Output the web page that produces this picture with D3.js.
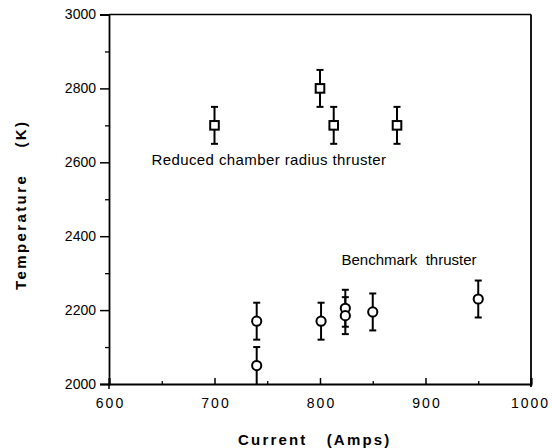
<!DOCTYPE html>
<html>
<head>
<meta charset="utf-8">
<script src="https://cdn.jsdelivr.net/npm/d3@7/dist/d3.min.js"></script>
<style>
  html, body { margin: 0; padding: 0; background: #fff; }
  svg { display: block; }
  text { font-family: "Liberation Sans", Arial, Helvetica, sans-serif; fill: #000; }
</style>
</head>
<body>
<script>
// ---- data ----
const reducedCurrent = [700, 800, 813, 873];
const reducedTemp    = [2700, 2800, 2700, 2700];
const reducedErr     = [50, 50, 50, 50];

const benchCurrent = [740, 740, 801, 824, 824, 850, 950];
const benchTemp    = [2170, 2050, 2170, 2205, 2185, 2195, 2230];
const benchErr     = [50, 50, 50, 50, 50, 50, 50];

const xTicks = [600, 700, 800, 900, 1000];
const xMinorTicks = [650, 750, 850, 950];
const yTicks = [2000, 2200, 2400, 2600, 2800, 3000];
const yMinorTicks = [2100, 2300, 2500, 2700, 2900];

const labelReduced = "Reduced chamber radius thruster";
const labelBench = "Benchmark\u00a0\u00a0thruster";
const xTitle = "Current\u00a0\u00a0\u00a0(Amps)";
const yTitle = "Temperature\u00a0\u00a0\u00a0\u00a0(K)";

// ---- drawing ----
const W = 552, H = 448;
const svg = d3.select("body").append("svg").attr("width", W).attr("height", H);

const x = d3.scaleLinear().domain([600, 1000]).range([109, 531]);
const y = d3.scaleLinear().domain([2000, 3000]).range([384, 14.5]);

// frame
const frame = svg.append("g").attr("stroke", "#000").attr("fill", "none");
frame.append("line").attr("x1", x(600)).attr("x2", x(1000)).attr("y1", y(3000)).attr("y2", y(3000)).attr("stroke-width", 1.6);
frame.append("line").attr("x1", x(1000)).attr("x2", x(1000)).attr("y1", y(3000)).attr("y2", y(2000) + 3).attr("stroke-width", 1.8);

// left axis
const yAxis = d3.axisLeft(y).tickValues(yTicks).tickSize(9).tickPadding(4).tickFormat(d3.format("d"));
const gy = svg.append("g").attr("transform", `translate(${x(600)},0)`).call(yAxis);
gy.select(".domain").attr("stroke-width", 1.8);
gy.selectAll(".tick line").attr("stroke-width", 1.5);
gy.selectAll(".tick text").attr("font-size", 14).attr("font-family", "Liberation Sans, Arial, sans-serif");
const gyMinor = svg.append("g").attr("transform", `translate(${x(600)},0)`)
  .call(d3.axisLeft(y).tickValues(yMinorTicks).tickSize(4).tickFormat(""));
gyMinor.select(".domain").remove();
gyMinor.selectAll(".tick line").attr("stroke-width", 1.3);

// bottom axis (ticks inward)
const xAxis = d3.axisBottom(x).tickValues(xTicks).tickSize(-6).tickPadding(0).tickFormat(d3.format("d"));
const gx = svg.append("g").attr("transform", `translate(0,${y(2000)})`).call(xAxis);
gx.select(".domain").attr("stroke-width", 2);
gx.selectAll(".tick line").attr("stroke-width", 1.5);
gx.selectAll(".tick text")
  .attr("font-size", 14).attr("font-family", "Liberation Sans, Arial, sans-serif")
  .attr("letter-spacing", "2px")
  .attr("y", 24).attr("dy", 0).attr("dx", (d) => (d === 1000 ? "-1px" : "1px"));
const gxMinor = svg.append("g").attr("transform", `translate(0,${y(2000)})`)
  .call(d3.axisBottom(x).tickValues(xMinorTicks).tickSize(-3).tickFormat(""));
gxMinor.select(".domain").remove();
gxMinor.selectAll(".tick line").attr("stroke-width", 1.3);
// little downward stub at the axis corner
svg.append("line").attr("x1", x(600)).attr("x2", x(600)).attr("y1", y(2000)).attr("y2", y(2000) + 5).attr("stroke", "#000").attr("stroke-width", 1.5);

// error bars helper
function errorBars(cur, temp, err, capW) {
  const g = svg.append("g").attr("stroke", "#000").attr("stroke-width", 2).attr("fill", "none");
  cur.forEach((c, i) => {
    const cx = x(c), top = y(temp[i] + err[i]), bot = y(temp[i] - err[i]);
    g.append("line").attr("x1", cx).attr("x2", cx).attr("y1", top).attr("y2", bot);
    g.append("line").attr("x1", cx - capW / 2).attr("x2", cx + capW / 2).attr("y1", top).attr("y2", top);
    if (temp[i] - err[i] > 2000)
      g.append("line").attr("x1", cx - capW / 2).attr("x2", cx + capW / 2).attr("y1", bot).attr("y2", bot);
  });
}

errorBars(reducedCurrent, reducedTemp, reducedErr, 7);
errorBars(benchCurrent, benchTemp, benchErr, 7);

// square markers
svg.append("g").selectAll("rect").data(reducedCurrent).join("rect")
  .attr("x", (d) => x(d) - 4.3).attr("y", (d, i) => y(reducedTemp[i]) - 4.3)
  .attr("width", 8.6).attr("height", 8.6)
  .attr("fill", "#fff").attr("stroke", "#000").attr("stroke-width", 2);

// circle markers
svg.append("g").selectAll("circle").data(benchCurrent).join("circle")
  .attr("cx", (d) => x(d)).attr("cy", (d, i) => y(benchTemp[i]))
  .attr("r", 4.6)
  .attr("fill", "#fff").attr("stroke", "#000").attr("stroke-width", 2);

// annotations
svg.append("text").attr("x", 151.5).attr("y", 165).attr("font-size", 15)
  .attr("letter-spacing", "0.4px").text(labelReduced);
svg.append("text").attr("x", 341.5).attr("y", 265).attr("font-size", 15)
  .text(labelBench);

// axis titles
svg.append("text").attr("x", 238).attr("y", 445).attr("font-size", 15)
  .attr("font-weight", "bold").attr("letter-spacing", "2.2px").text(xTitle);
svg.append("text").attr("transform", "translate(26,290) rotate(-90)")
  .attr("font-size", 15).attr("font-weight", "bold").attr("letter-spacing", "2.4px").text(yTitle);
</script>
</body>
</html>
